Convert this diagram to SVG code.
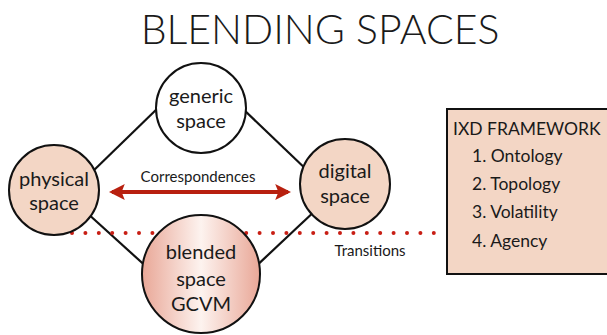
<svg xmlns="http://www.w3.org/2000/svg" width="607" height="335" viewBox="0 0 607 335">
<style>
.t{font-family:"Lato","Open Sans","Liberation Sans",sans-serif;fill:#1a1a1a}
.n{font-size:20px;text-anchor:middle}
.s{font-size:15px}
.b{font-size:17.5px}
.c{stroke:#111;stroke-width:2}
.edge{stroke:#111;stroke-width:2.2;fill:none}
</style>
<defs>
<linearGradient id="bg" x1="0" y1="0" x2="1" y2="0">
<stop offset="0" stop-color="#e9a797"/>
<stop offset="0.5" stop-color="#fdf3ef"/>
<stop offset="1" stop-color="#e9a797"/>
</linearGradient>
<marker id="ah" viewBox="0 0 10 10" refX="8" refY="5" markerWidth="4" markerHeight="4" orient="auto-start-reverse" markerUnits="strokeWidth">
<path d="M0,0 L10,5 L0,10 L2,5 z" fill="#b8200f"/>
</marker>
</defs>
<rect width="607" height="335" fill="#fff"/>
<text class="t" x="320" y="44" font-size="41" font-weight="300" text-anchor="middle">BLENDING SPACES</text>
<g id="connectors">
<line class="edge" x1="160" y1="106" x2="90" y2="174"/>
<line class="edge" x1="242" y1="108" x2="310" y2="173"/>
<line class="edge" x1="86" y1="212" x2="150" y2="270"/>
<line class="edge" x1="318" y1="208" x2="252" y2="270"/>
<line x1="72" y1="233" x2="442" y2="233" stroke="#c81e14" stroke-width="4" stroke-linecap="round" stroke-dasharray="0 13.4"/>
<line x1="112" y1="192" x2="288" y2="192" stroke="#b8200f" stroke-width="4" marker-start="url(#ah)" marker-end="url(#ah)"/>
<text class="t s" x="198" y="182" text-anchor="middle">Correspondences</text>
<text class="t s" x="370" y="256" text-anchor="middle">Transitions</text>
</g>
<g id="generic">
<circle class="c" cx="201" cy="108" r="45" fill="#fff"/>
<text class="t n" x="201" y="103">generic</text>
<text class="t n" x="201" y="128">space</text>
</g>
<g id="physical">
<circle class="c" cx="54" cy="190" r="45" fill="#f3d6c5"/>
<text class="t n" x="54" y="186">physical</text>
<text class="t n" x="54" y="210">space</text>
</g>
<g id="digital">
<circle class="c" cx="345" cy="184" r="45" fill="#f3d6c5"/>
<text class="t n" x="345" y="178">digital</text>
<text class="t n" x="345" y="203">space</text>
</g>
<g id="blended">
<circle class="c" cx="201" cy="274" r="59" fill="url(#bg)"/>
<text class="t n" x="201" y="259">blended</text>
<text class="t n" x="201" y="286">space</text>
<text class="t n" x="201" y="311">GCVM</text>
</g>
<g id="framework">
<rect x="447" y="109" width="170" height="165" fill="#f3d6c5" stroke="#111" stroke-width="2"/>
<text class="t b" x="453" y="135">IXD FRAMEWORK</text>
<text class="t b" x="472" y="162">1. Ontology</text>
<text class="t b" x="472" y="190">2. Topology</text>
<text class="t b" x="472" y="218">3. Volatility</text>
<text class="t b" x="472" y="247">4. Agency</text>
</g>
</svg>
